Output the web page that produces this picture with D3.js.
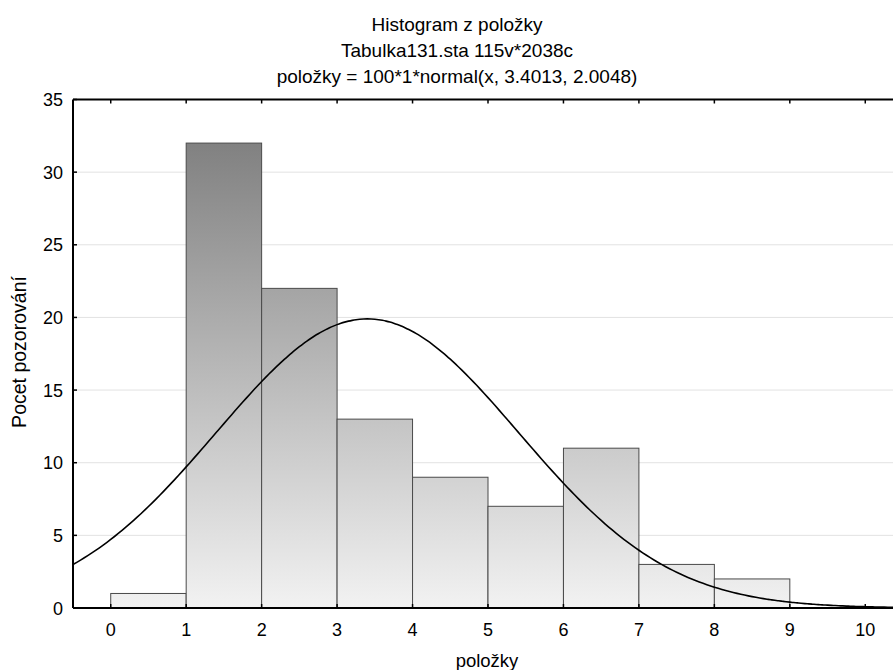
<!DOCTYPE html>
<html>
<head>
<meta charset="utf-8">
<script src="https://cdn.jsdelivr.net/npm/d3@7"></script>
<style>
  body { margin: 0; background: #fff; }
  svg { display: block; font-family: "Liberation Sans", Arial, sans-serif; }
</style>
</head>
<body>
<div id="chart"></div>
<script>
// histogram bins (lower edge) and counts
const binStarts = [0, 1, 2, 3, 4, 5, 6, 7, 8];
const counts = [1, 32, 22, 13, 9, 7, 11, 3, 2];
const xTicks = [0, 1, 2, 3, 4, 5, 6, 7, 8, 9, 10];
const yTicks = [0, 5, 10, 15, 20, 25, 30, 35];

// fitted curve parameters (from the title)
const fitN = 100, fitWidth = 1, fitMean = 3.4013, fitSd = 2.0048;

const titleLines = [
  "Histogram z položky",
  "Tabulka131.sta 115v*2038c",
  "položky = 100*1*normal(x, 3.4013, 2.0048)"
];

const width = 893, height = 670;
const margin = { top: 99.5, left: 73, bottom: 62, right: -10 };

const x = d3.scaleLinear().domain([-0.5, 10.5]).range([margin.left, width - margin.right]);
const y = d3.scaleLinear().domain([0, 35]).range([height - margin.bottom, margin.top]);

const svg = d3.select("#chart").append("svg")
  .attr("width", width)
  .attr("height", height);

const defs = svg.append("defs");
const grad = defs.append("linearGradient")
  .attr("id", "barGrad")
  .attr("gradientUnits", "userSpaceOnUse")
  .attr("x1", 0).attr("x2", 0)
  .attr("y1", y(32)).attr("y2", y(0));
grad.append("stop").attr("offset", "0%").attr("stop-color", "#818181");
grad.append("stop").attr("offset", "100%").attr("stop-color", "#f2f2f2");

defs.append("clipPath").attr("id", "plotClip")
  .append("rect")
  .attr("x", x(-0.5)).attr("y", y(35))
  .attr("width", x(10.5) - x(-0.5)).attr("height", y(0) - y(35));

// gridlines
svg.append("g")
  .selectAll("line")
  .data(yTicks.filter(d => d > 0 && d < 35))
  .join("line")
  .attr("x1", x(-0.5)).attr("x2", x(10.5))
  .attr("y1", d => y(d)).attr("y2", d => y(d))
  .attr("stroke", "#e2e2e2")
  .attr("stroke-width", 1);

// bars
svg.append("g")
  .selectAll("rect")
  .data(binStarts.map((b, i) => ({ b, c: counts[i] })))
  .join("rect")
  .attr("x", d => x(d.b))
  .attr("y", d => y(d.c))
  .attr("width", d => x(d.b + 1) - x(d.b))
  .attr("height", d => y(0) - y(d.c))
  .attr("fill", "url(#barGrad)")
  .attr("stroke", "#4a4a4a")
  .attr("stroke-width", 1);

// normal curve
const normal = v => fitN * fitWidth * Math.exp(-((v - fitMean) ** 2) / (2 * fitSd * fitSd)) / (fitSd * Math.sqrt(2 * Math.PI));
const curveXs = d3.range(-0.5, 10.51, 0.05);
svg.append("path")
  .datum(curveXs)
  .attr("clip-path", "url(#plotClip)")
  .attr("fill", "none")
  .attr("stroke", "#000")
  .attr("stroke-width", 1.6)
  .attr("d", d3.line().x(d => x(d)).y(d => y(normal(d))).curve(d3.curveMonotoneX));

// frame
const frame = svg.append("g").attr("stroke", "#000").attr("stroke-width", 2);
frame.append("line").attr("x1", x(-0.5)).attr("x2", x(10.5)).attr("y1", y(0)).attr("y2", y(0));
frame.append("line").attr("x1", x(-0.5)).attr("x2", x(10.5)).attr("y1", y(35)).attr("y2", y(35));
frame.append("line").attr("x1", x(-0.5)).attr("x2", x(-0.5)).attr("y1", y(0)).attr("y2", y(35));

// inward ticks
const ticks = svg.append("g").attr("stroke", "#000").attr("stroke-width", 1.5);
xTicks.forEach(t => {
  ticks.append("line").attr("x1", x(t)).attr("x2", x(t)).attr("y1", y(0)).attr("y2", y(0) - 4);
  ticks.append("line").attr("x1", x(t)).attr("x2", x(t)).attr("y1", y(35)).attr("y2", y(35) + 4);
});
yTicks.forEach(t => {
  ticks.append("line").attr("x1", x(-0.5)).attr("x2", x(-0.5) + 4).attr("y1", y(t)).attr("y2", y(t));
});

// tick labels
svg.append("g")
  .selectAll("text")
  .data(xTicks)
  .join("text")
  .attr("x", d => x(d))
  .attr("y", 636)
  .attr("text-anchor", "middle")
  .attr("font-size", 18)
  .text(d => d);

svg.append("g")
  .selectAll("text")
  .data(yTicks)
  .join("text")
  .attr("x", x(-0.5) - 10)
  .attr("y", d => y(d) + 6.5)
  .attr("text-anchor", "end")
  .attr("font-size", 18)
  .text(d => d);

// axis titles
svg.append("text")
  .attr("x", 487).attr("y", 667)
  .attr("text-anchor", "middle")
  .attr("font-size", 18.5)
  .text("položky");

svg.append("text")
  .attr("transform", "translate(26,352) rotate(-90)")
  .attr("text-anchor", "middle")
  .attr("font-size", 19.5)
  .text("Pocet pozorování");

// title
svg.append("g")
  .selectAll("text")
  .data(titleLines)
  .join("text")
  .attr("x", 457)
  .attr("y", (d, i) => 31 + i * 26)
  .attr("text-anchor", "middle")
  .attr("font-size", 19)
  .text(d => d);
</script>
</body>
</html>
